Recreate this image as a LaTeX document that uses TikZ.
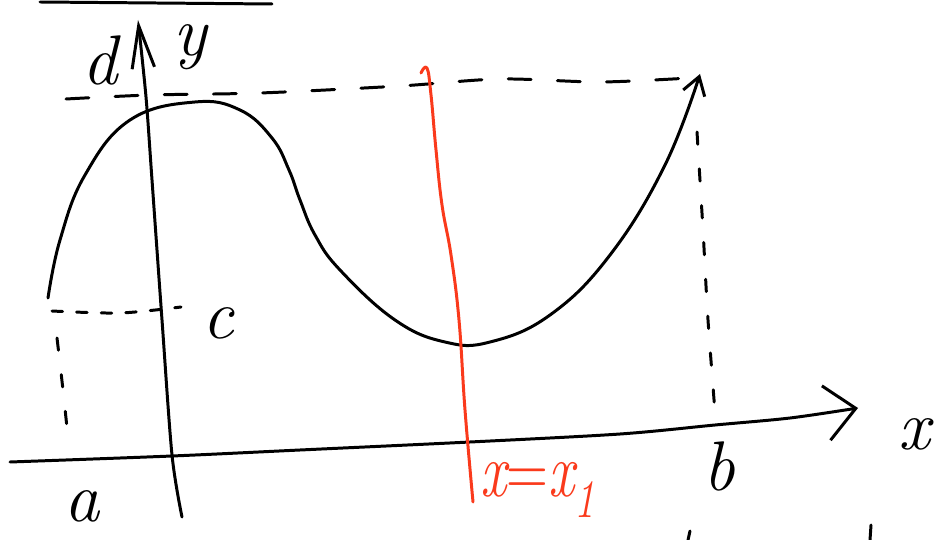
\documentclass[tikz,border=0pt]{standalone}
\usepackage{fontspec}
\usetikzlibrary{arrows.meta}
\definecolor{SkInk}{RGB}{0,0,0}
\definecolor{SkRed}{RGB}{250,58,28}
\tikzset{
  sk/ink/.style={
    draw=SkInk,
    line width=1.7pt,
    line cap=round,
    line join=round
  },
  sk/guide/.style={sk/ink, dash pattern=on 13pt off 15pt},
  sk/drop/.style={sk/ink, dash pattern=on 7pt off 14pt},
  sk/dots/.style={sk/ink, dash pattern=on 6pt off 8pt},
  sk/cut/.style={draw=SkRed, line width=1.7pt, line cap=round, line join=round},
  sk/label/.style={font=\fontsize{40}{44}\selectfont\itshape, text=SkInk, inner sep=0pt},
  sk/redlabel/.style={sk/label, text=SkRed, font=\fontsize{44}{48}\selectfont\itshape}
}
\begin{document}
\begin{tikzpicture}[x=0.02cm,y=-0.02cm]
  \useasboundingbox (0,0) rectangle (935,540);
  % axes
  \draw[sk/ink,-{Straight Barb[length=0.6cm,width=1.1cm]}] plot[smooth,tension=0.5] coordinates {(10,462) (172,456) (300,450) (470,442) (620,434) (715,425) (790,418) (858,408)};
  \draw[sk/ink,-{Straight Barb[length=0.85cm,width=0.45cm]}] plot[smooth,tension=0.5] coordinates {(182,517) (172,455) (162,320) (152,180) (146,97) (138,20)};
  \node[sk/label] (ylbl) at (190,47) {y};
  \node[sk/label] (dlbl) at (100,60) {d};
  \node[sk/label] (xlbl) at (914,434) {x};
  % guide lines
  \draw[sk/guide] plot[smooth,tension=0.5] coordinates {(66,99) (150,95) (260,93) (400,86) (500,79) (600,82) (690,78)};
  \draw[sk/drop] plot[smooth,tension=0.5] coordinates {(697,132) (703,230) (708,320) (716,425)};
  \draw[sk/dots] plot[smooth,tension=0.5] coordinates {(52,311) (120,313) (181,307)};
  \draw[sk/drop] plot[smooth,tension=0.5] coordinates {(57,338) (63,390) (69,447)};
  % the curve
  \draw[sk/ink,-{Straight Barb[length=0.35cm,width=0.45cm]}] plot[smooth,tension=0.7] coordinates {(48,298) (60,240) (85,175) (130,120) (195,102) (240,110) (272,138) (289,170) (300,200) (315,235) (340,270) (395,320) (445,342) (490,342) (550,315) (610,255) (665,165) (700,74)};
  \node[sk/label] (clbl) at (218,323) {c};
  \node[sk/label] (albl) at (82,506) {a};
  \node[sk/label] (blbl) at (719,466) {b};
  % section line
  \draw[sk/cut] plot[smooth,tension=0.7] coordinates {(421,73) (427,68) (431,95) (436,150) (442,205) (451,255) (459,320) (465,410) (473,502)};
  \node[sk/redlabel,anchor=west] (seclbl) at (480,490) {\scalebox{0.75}[1]{x\upshape{=}\itshape x\textsubscript{1}}};
  % stray strokes at the edges
  \draw[sk/ink] (40,2) -- (272,4);
  \draw[sk/ink] (690,531) -- (688,540);
  \draw[sk/ink] (871,525) -- (870,540);
\end{tikzpicture}
\end{document}
